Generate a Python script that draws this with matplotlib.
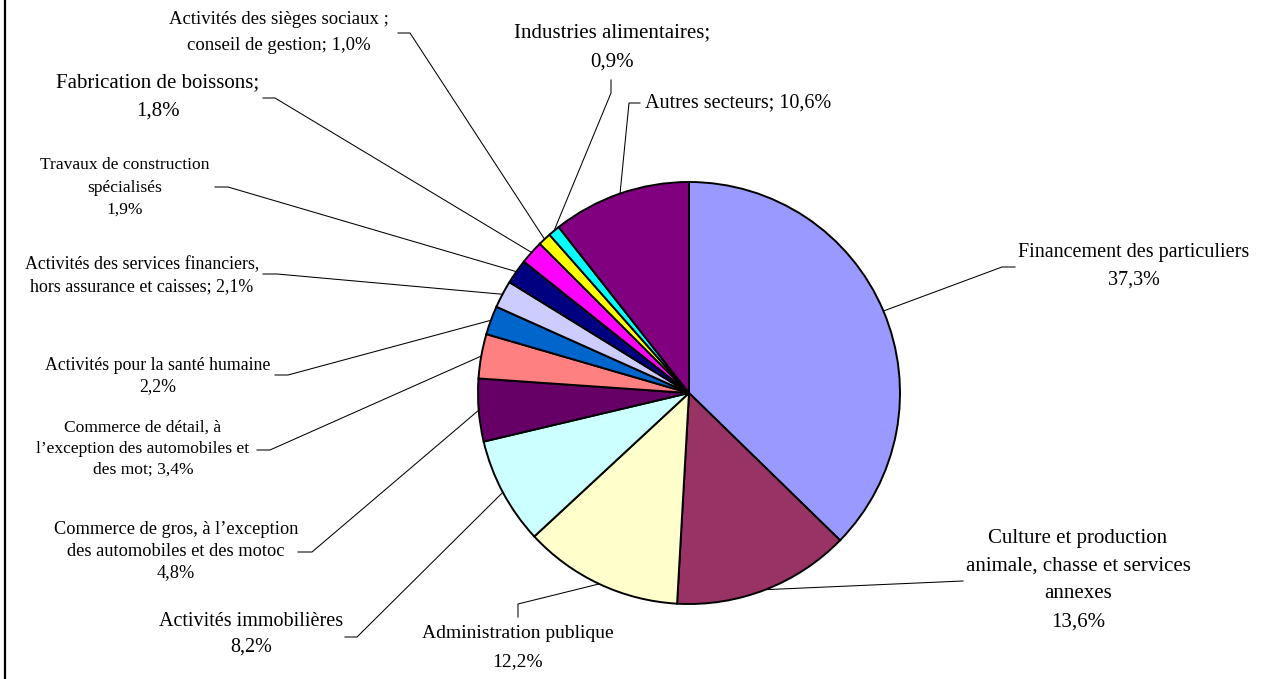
import numpy as np
import matplotlib
matplotlib.use("Agg")
import matplotlib.pyplot as plt
from matplotlib.lines import Line2D

# slices, clockwise from 12 o'clock
sectors = [
    "Financement des particuliers",
    "Culture et production\nanimale, chasse et services\nannexes",
    "Administration publique",
    "Activités immobilières",
    "Commerce de gros, à l’exception\ndes automobiles et des motoc",
    "Commerce de détail, à\nl’exception des automobiles et\ndes mot",
    "Activités pour la santé humaine",
    "Activités des services financiers,\nhors assurance et caisses",
    "Travaux de construction\nspécialisés",
    "Fabrication de boissons;",
    "Activités des sièges sociaux ;\nconseil de gestion",
    "Industries alimentaires;",
    "Autres secteurs",
]
shares = [37.3, 13.6, 12.2, 8.2, 4.8, 3.4, 2.2, 2.1, 1.9, 1.8, 1.0, 0.9, 10.6]
separators = ["\n", "\n", "\n", "\n", "\n", "; ", "\n", "; ", "\n", "\n", "; ", "\n", "; "]
colors = ["#9999FF", "#993366", "#FFFFCC", "#CCFFFF", "#660066", "#FF8080",
          "#0066CC", "#CCCCFF", "#000080", "#FF00FF", "#FFFF00", "#00FFFF", "#800080"]

# label placement in pixels: x, first line y, line step, font size, h-align
label_pos = [
    (1134, 252, 28, 14.5, "center"),
    (1078, 538, 28, 15, "center"),
    (518, 634, 28, 14, "center"),
    (251, 622, 25, 14.5, "center"),
    (176, 530, 21.5, 13.2, "center"),
    (143, 428, 21, 12.6, "center"),
    (158, 365, 22, 12.8, "center"),
    (142, 265, 22, 12.9, "center"),
    (125, 165, 22.5, 12.6, "center"),
    (158, 83, 28, 15, "center"),
    (279, 20, 26, 13.5, "center"),
    (612, 33, 29, 15, "center"),
    (645, 103, 0, 14.5, "left"),
]
# leader line elbows (from label side toward the pie)
elbows = [
    [(1015, 267), (1002, 267)],
    [(963, 581)],
    [(518, 617), (518, 604)],
    [(345, 637), (357, 637)],
    [(298, 552), (312, 552)],
    [(257, 450), (270, 450)],
    [(275, 375), (288, 375)],
    [(263, 274), (277, 274)],
    [(215, 187), (228, 187)],
    [(263, 98), (275, 98)],
    [(398, 33), (410, 33)],
    [(611, 80), (611, 93)],
    [(640, 103), (629, 103)],
]

plt.rcParams['font.family'] = ['Liberation Serif', 'DejaVu Serif']

W, H = 1266, 679
cx, cy, r = 689, 393, 211

fig = plt.figure(figsize=(W / 100, H / 100), dpi=100)
ax = fig.add_axes([0, 0, 1, 1])

# y axis runs downward, so counterclock in data = clockwise on screen
wedges, _ = ax.pie(shares, colors=colors, startangle=-90, counterclock=True,
                   center=(cx, cy), radius=r,
                   wedgeprops=dict(edgecolor="black", linewidth=1.4))

ax.set_xlim(0, W)
ax.set_ylim(H, 0)
ax.set_aspect("equal")
ax.axis("off")

for w, name, v, sep, pos, elb in zip(wedges, sectors, shares, separators, label_pos, elbows):
    mid = np.deg2rad((w.theta1 + w.theta2) / 2)
    anchor = (cx + r * np.cos(mid), cy + r * np.sin(mid))
    pts = elb + [anchor]
    ax.plot([p[0] for p in pts], [p[1] for p in pts], color="black", lw=0.75)

    text = name + sep + f"{v:.1f}".replace(".", ",") + "%"
    x, y0, step, fs, ha = pos
    for i, line in enumerate(text.split("\n")):
        ax.text(x, y0 + i * step, line, ha=ha, va="center", fontsize=fs, color="black")

# frame line on the left edge
fig.add_artist(Line2D([5 / W, 5 / W], [0, 1], color="black", lw=1.6))

fig.savefig("out.png", dpi=100)
